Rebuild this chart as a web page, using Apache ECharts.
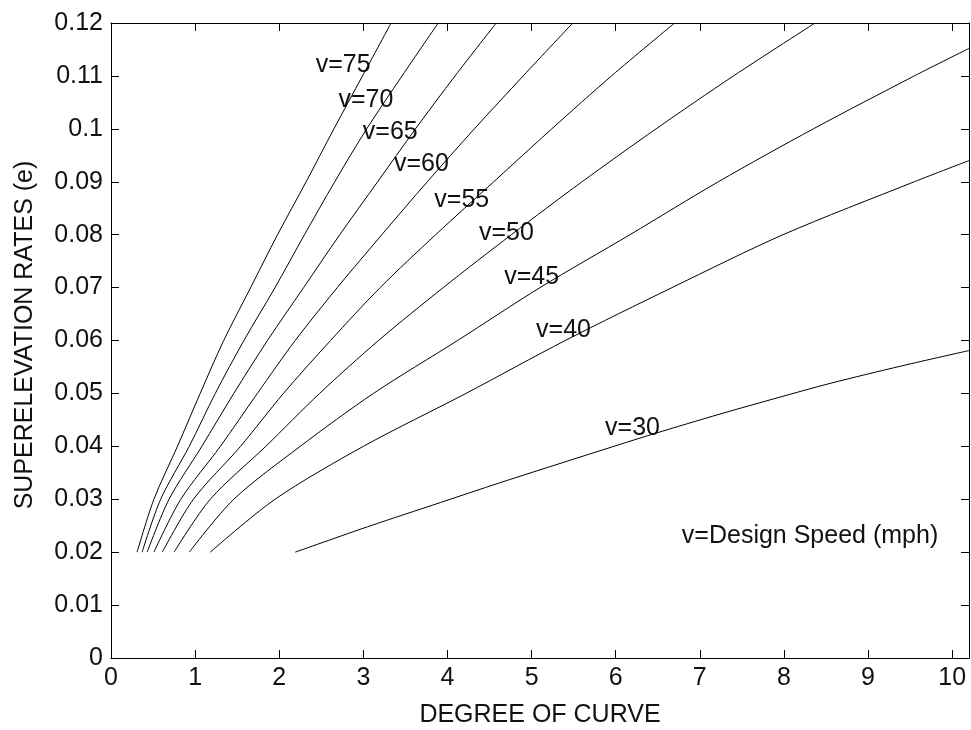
<!DOCTYPE html>
<html><head><meta charset="utf-8">
<script src="https://cdn.jsdelivr.net/npm/echarts@6/dist/echarts.min.js"></script>
<style>html,body{margin:0;padding:0;background:#fff}#c{width:971px;height:730px}</style>
</head><body><div id="c"></div>
<script>
// ---- data (degree of curve D, superelevation e) ----
const v75 = [[0.31,0.02],[0.51,0.03],[0.79,0.04],[1.06,0.05],[1.34,0.06],[1.66,0.07],[1.98,0.08],[2.32,0.09],[2.65,0.10],[2.99,0.11],[3.33,0.12]];
const v70 = [[0.37,0.02],[0.59,0.03],[0.93,0.04],[1.24,0.05],[1.58,0.06],[1.95,0.07],[2.30,0.08],[2.66,0.09],[3.04,0.10],[3.46,0.11],[3.89,0.12]];
const v65 = [[0.43,0.02],[0.69,0.03],[1.08,0.04],[1.46,0.05],[1.86,0.06],[2.29,0.07],[2.72,0.08],[3.17,0.09],[3.62,0.10],[4.09,0.11],[4.58,0.12]];
const v60 = [[0.51,0.02],[0.83,0.03],[1.30,0.04],[1.74,0.05],[2.19,0.06],[2.69,0.07],[3.22,0.08],[3.76,0.09],[4.32,0.10],[4.90,0.11],[5.49,0.12]];
const v55 = [[0.61,0.02],[0.98,0.03],[1.54,0.04],[2.05,0.05],[2.61,0.06],[3.20,0.07],[3.86,0.08],[4.55,0.09],[5.24,0.10],[5.95,0.11],[6.70,0.12]];
const v50 = [[0.75,0.02],[1.18,0.03],[1.84,0.04],[2.48,0.05],[3.18,0.06],[3.95,0.07],[4.76,0.08],[5.60,0.09],[6.48,0.10],[7.40,0.11],[8.37,0.12]];
const v45 = [[0.93,0.02],[1.46,0.03],[2.25,0.04],[3.12,0.05],[4.12,0.06],[5.10,0.07],[6.17,0.08],[7.22,0.09],[8.35,0.10],[9.55,0.11],[10.2,0.1152]];
const v40 = [[1.18,0.02],[1.95,0.03],[3.00,0.04],[4.22,0.05],[5.40,0.06],[6.67,0.07],[7.99,0.08],[9.55,0.09],[10.2,0.094]];
const v30 = [[2.19,0.02],[3.05,0.0248],[3.92,0.0294],[4.62,0.0331],[5.80,0.0391],[6.46,0.0424],[7.24,0.0461],[7.93,0.0492],[8.55,0.0519],[9.40,0.0552],[10.2,0.0581]];
const curveNames = ['v=75','v=70','v=65','v=60','v=55','v=50','v=45','v=40','v=30'];
const xTickLabels = ['0','1','2','3','4','5','6','7','8','9','10'];
const yTickLabels = ['0','0.01','0.02','0.03','0.04','0.05','0.06','0.07','0.08','0.09','0.1','0.11','0.12'];
const noteText = 'v=Design Speed (mph)';
const xTitle = 'DEGREE OF CURVE';
const yTitle = 'SUPERELEVATION RATES (e)';

// ---- layout ----
const curves = [v75, v70, v65, v60, v55, v50, v45, v40, v30];
const labelAnchors = [[2.76,0.112],[3.03,0.1055],[3.32,0.0993],[3.69,0.0934],[4.17,0.0866],[4.70,0.0802],[5.00,0.0719],[5.38,0.062],[6.20,0.0435]];
const noteAnchor = [8.31,0.0231];
const FONT = "'Liberation Sans', Arial, sans-serif";
const FS = 25;
const chart = echarts.init(document.getElementById('c'), null, {renderer:'canvas'});
const axisLine = {show:true, onZero:false, lineStyle:{color:'#000', width:1}};
const tick = {show:true, inside:true, length:8, lineStyle:{color:'#000', width:1}};
const xBase = {type:'value', min:0, max:10.2, interval:1, axisLine, axisTick:tick, splitLine:{show:false}};
const yBase = {type:'value', min:0, max:0.12, interval:0.01, axisLine, axisTick:tick, splitLine:{show:false}};
chart.setOption({
  backgroundColor:'#fff',
  animation:false,
  grid:{left:111, right:2, top:23, bottom:72, containLabel:false},
  xAxis:[
    Object.assign({}, xBase, {position:'bottom', axisLabel:{show:true, margin:8, color:'#111', fontFamily:FONT, fontSize:FS,
      formatter:v=>xTickLabels[Math.round(v)]}}),
    Object.assign({}, xBase, {position:'top', axisLabel:{show:false}})
  ],
  yAxis:[
    Object.assign({}, yBase, {position:'left', axisLabel:{show:true, margin:8, color:'#111', fontFamily:FONT, fontSize:FS,
      formatter:v=>yTickLabels[Math.round(v/0.01)]}}),
    Object.assign({}, yBase, {position:'right', axisLabel:{show:false}})
  ],
  series: curves.map((d,i)=>({
    name:curveNames[i], type:'line', data:d, xAxisIndex:0, yAxisIndex:0,
    showSymbol:false, symbol:'none', smooth:0.3, clip:true,
    lineStyle:{color:'#000', width:1}
  }))
});
const txt = (x,y,t,extra)=>Object.assign({type:'text', x, y, style:{text:t, fill:'#111', font:FS+'px '+FONT, textAlign:'center', textVerticalAlign:'middle'}}, extra||{});
const g = [];
labelAnchors.forEach((a,i)=>{ const p = chart.convertToPixel({xAxisIndex:0,yAxisIndex:0}, a); g.push(txt(p[0],p[1],curveNames[i])); });
const np = chart.convertToPixel({xAxisIndex:0,yAxisIndex:0}, noteAnchor);
g.push(txt(np[0], np[1], noteText));
g.push(txt(540, 715, xTitle));
g.push(txt(25, 335, yTitle, {rotation:Math.PI/2}));
chart.setOption({graphic:g});
</script></body></html>
